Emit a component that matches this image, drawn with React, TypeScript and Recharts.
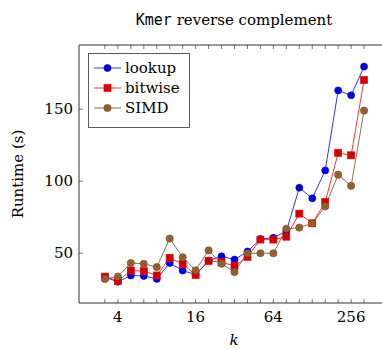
import { LineChart, Line, XAxis, YAxis, Legend } from 'recharts';

// k values (log2 spaced, three per octave)
const kValues = [3.17, 4, 5.04, 6.35, 8, 10.08, 12.7, 16, 20.16, 25.4, 32, 40.32, 50.8, 64, 80.63, 101.6, 128, 161.3, 203.2, 256, 322.5];
const lookup = [33.4, 30.2, 34.6, 34.3, 32.2, 43.3, 38, 35.2, 44.9, 47.9, 45.6, 51.2, 59.9, 60.8, 65.2, 95.5, 88.1, 107.5, 163, 159.6, 179.5];
const bitwise = [33.8, 30.8, 38, 37.6, 34.6, 46.8, 42.5, 35, 44.7, 43.8, 41.2, 47.5, 59.5, 59.5, 61.5, 77.5, 70.8, 85.5, 119.7, 118, 170.2];
const simd = [32.2, 33.8, 43.2, 42.7, 40.4, 60.2, 47.2, 38.2, 52, 42.8, 37, 50, 50, 50, 67, 67.8, 70.8, 82.5, 104.5, 96.8, 149];

const xTicks = [4, 16, 64, 256];
const yTicks = [50, 100, 150];
const seriesNames = ['lookup', 'bitwise', 'SIMD'];

const data = kValues.map((k, i) => ({ k, lookup: lookup[i], bitwise: bitwise[i], simd: simd[i] }));

const SERIF = '"DejaVu Serif", serif';
const MONO = '"DejaVu Sans Mono", monospace';
const FS = 15;

const BLUE = '#0000ff';
const RED = '#ff0000';
const BROWN = '#734d26';

const CircleMark = ({ cx, cy }: any) => (
  <circle cx={cx} cy={cy} r={3.5} fill="#0000cc" stroke={BLUE} strokeWidth={0.7} />
);
const SquareMark = ({ cx, cy }: any) => (
  <rect x={cx - 3.5} y={cy - 3.5} width={7} height={7} fill="#cc0000" stroke={RED} strokeWidth={0.7} />
);
const OtimesMark = ({ cx, cy }: any) => (
  <g>
    <circle cx={cx} cy={cy} r={3.6} fill="#996633" stroke={BROWN} strokeWidth={0.7} />
    <line x1={cx - 2.5} y1={cy - 2.5} x2={cx + 2.5} y2={cy + 2.5} stroke={BROWN} strokeWidth={0.6} />
    <line x1={cx - 2.5} y1={cy + 2.5} x2={cx + 2.5} y2={cy - 2.5} stroke={BROWN} strokeWidth={0.6} />
  </g>
);
const marks = [CircleMark, SquareMark, OtimesMark];
const colors = [BLUE, RED, BROWN];

const BottomTick = ({ x, y, payload }: any) => (
  <g>
    <line x1={x} y1={y} x2={x} y2={y - 4} stroke="#222" strokeWidth={0.6} />
    {xTicks.includes(payload.value) && (
      <text x={x} y={y + 19} textAnchor="middle" fontFamily={SERIF} fontSize={FS} fill="#000">
        {payload.value}
      </text>
    )}
  </g>
);

const TopTick = ({ x, y }: any) => (
  <line x1={x} y1={y} x2={x} y2={y + 4} stroke="#222" strokeWidth={0.6} />
);

const LeftTick = ({ x, y, payload }: any) => (
  <g>
    <line x1={x} y1={y} x2={x + 4} y2={y} stroke="#222" strokeWidth={0.6} />
    <text x={x - 6} y={y + 5} textAnchor="end" fontFamily={SERIF} fontSize={FS} fill="#000">
      {payload.value}
    </text>
  </g>
);

const LegendBox = () => (
  <svg width={103} height={76}>
    <rect x={0.5} y={0.5} width={101} height={74} fill="#fff" stroke="#333" strokeWidth={0.8} />
    {seriesNames.map((name, i) => {
      const Mark = marks[i];
      const cy = 15 + 20 * i;
      return (
        <g key={name}>
          <line x1={6} x2={33} y1={cy} y2={cy} stroke={colors[i]} strokeWidth={0.8} />
          <Mark cx={19.5} cy={cy} />
          <text x={37} y={cy + 5} fontFamily={SERIF} fontSize={FS} fill="#000">
            {name}
          </text>
        </g>
      );
    })}
  </svg>
);

export default function App() {
  return (
    <div style={{ position: 'fixed', left: 0, top: 0, width: 382, height: 349, overflow: 'hidden', background: '#fff' }}>
      <LineChart width={400} height={349} data={data} margin={{ top: 44, right: 10, left: 0, bottom: 0 }}>
        <XAxis
          dataKey="k"
          type="number"
          scale="log"
          domain={[2, 512]}
          allowDataOverflow
          ticks={kValues}
          interval={0}
          tickSize={0}
          tickMargin={0}
          tickLine={false}
          height={46}
          axisLine={{ stroke: '#000', strokeWidth: 0.8 }}
          tick={<BottomTick />}
          label={{
            content: () => (
              <text x={234} y={345} textAnchor="middle" fontFamily={SERIF} fontStyle="italic" fontSize={FS} fill="#000">
                k
              </text>
            ),
          }}
        />
        <XAxis
          xAxisId="top"
          orientation="top"
          dataKey="k"
          type="number"
          scale="log"
          domain={[2, 512]}
          allowDataOverflow
          ticks={kValues}
          interval={0}
          tickSize={0}
          tickMargin={0}
          tickLine={false}
          height={1}
          axisLine={{ stroke: '#000', strokeWidth: 0.8 }}
          tick={<TopTick />}
          label={{
            content: () => (
              <text x={234} y={25} textAnchor="middle" fontSize={FS} fill="#000">
                <tspan fontFamily={MONO}>Kmer</tspan>
                <tspan fontFamily={SERIF}> reverse complement</tspan>
              </text>
            ),
          }}
        />
        <YAxis
          type="number"
          domain={[15.5, 194.5]}
          allowDataOverflow
          ticks={yTicks}
          interval={0}
          width={79}
          tickSize={0}
          tickMargin={0}
          tickLine={false}
          axisLine={{ stroke: '#000', strokeWidth: 0.8 }}
          tick={<LeftTick />}
          label={{
            content: () => (
              <text
                x={23}
                y={174}
                transform="rotate(-90 23 174)"
                textAnchor="middle"
                fontFamily={SERIF}
                fontSize={FS}
                fill="#000"
              >
                Runtime (s)
              </text>
            ),
          }}
        />
        <Legend
          layout="horizontal"
          verticalAlign="middle"
          align="center"
          content={<LegendBox />}
          wrapperStyle={{ left: 88, top: 53, width: 103, height: 76 }}
        />
        {/* invisible series so the top (mirror) axis is used */}
        <Line xAxisId="top" dataKey="lookup" stroke="none" dot={false} activeDot={false} legendType="none" isAnimationActive={false} />
        <Line dataKey="lookup" name="lookup" stroke={BLUE} strokeWidth={0.8} dot={(p: any) => <CircleMark key={`l${p.index}`} {...p} />} activeDot={false} isAnimationActive={false} />
        <Line dataKey="bitwise" name="bitwise" stroke={RED} strokeWidth={0.8} dot={(p: any) => <SquareMark key={`b${p.index}`} {...p} />} activeDot={false} isAnimationActive={false} />
        <Line dataKey="simd" name="SIMD" stroke={BROWN} strokeWidth={0.8} dot={(p: any) => <OtimesMark key={`s${p.index}`} {...p} />} activeDot={false} isAnimationActive={false} />
      </LineChart>
    </div>
  );
}
